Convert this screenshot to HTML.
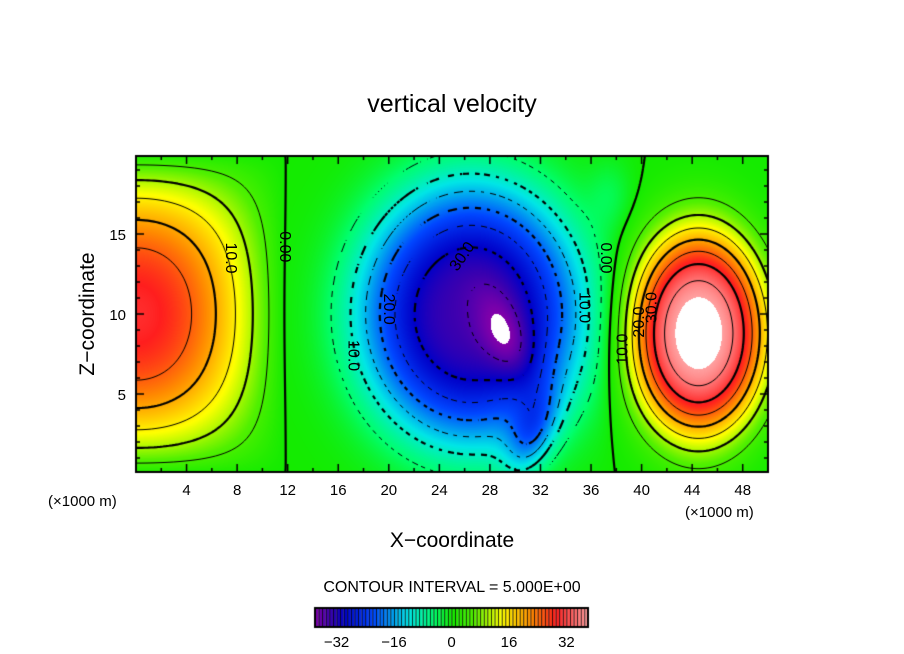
<!DOCTYPE html>
<html><head><meta charset="utf-8"><style>
body{margin:0;background:#fff;}
#wrap{position:relative;width:904px;height:654px;overflow:hidden;font-family:"Liberation Sans",sans-serif;}
canvas{position:absolute;left:0;top:0;}
svg{position:absolute;left:0;top:0;}
</style></head><body>
<div id="wrap">
<canvas id="cv" width="904" height="654"></canvas>
<svg width="904" height="654" id="ov">
<text x="452" y="112" font-size="25" text-anchor="middle" font-family="Liberation Sans, sans-serif">vertical velocity</text>
<text x="452" y="547" font-size="21" text-anchor="middle">X−coordinate</text>
<text transform="translate(94,314) rotate(-90)" font-size="21" text-anchor="middle">Z−coordinate</text>
<text x="48" y="506" font-size="15">(×1000 m)</text>
<text x="685" y="517" font-size="15">(×1000 m)</text>
<text x="452" y="592" font-size="16" text-anchor="middle">CONTOUR INTERVAL = 5.000E+00</text>
<g id="labels" font-size="16" font-family="Liberation Sans, sans-serif"></g>
</svg>
</div>
<script>
// data
const xTicks=[4,8,12,16,20,24,28,32,36,40,44,48];
const zTicks=[5,10,15];
const cbTicks=[-32,-16,0,16,32];
const leftAmp=30;
const blobX=[26.5,29.5,31.3,44.5,37.5];
const blobZ=[10,8.3,2.5,8.8,17.5];
const blobAmp=[-34,-6,-12,39.5,-3];
const blobSx=[6.3,2.5,1.2,3.9,1.2];
const blobSz=[5.8,1.3,2.0,4.7,1.5];
const blobAngle=[0,-1.0,-0.5,0,0];
const blobPower=[1.5,1,1,1.5,1];
const contourLabels=["10.0","0.00","20.0","30.0","10.0","10.0","0.00","10.0","20.0","30.0"];
const labelX=[7.5,11.8,20,25.8,17.2,35.5,37.2,38.5,39.8,40.8];
const labelZ=[13.5,14.2,10.3,13.6,7.4,10.4,13.5,7.8,9.5,10.4];
const labelRot=[90,90,90,-55,90,90,90,-90,-90,-90];

const X0=136,X1=768,Y0=156,Y1=472,XMAX=50;
const sx=x=>X0+x*(X1-X0)/XMAX;
const sz=z=>474-z*16;
function field(x,z){
  const env=Math.pow(Math.max(0,Math.sin(Math.PI*Math.min(Math.max(z,0),20)/20)),0.8);
  let v=leftAmp*env*Math.cos(Math.PI*Math.min(x,11.8)/23.6);
  for(let i=0;i<blobX.length;i++){
    const dx=x-blobX[i],dz=z-blobZ[i],a=blobAngle[i];
    const u=dx*Math.cos(a)+dz*Math.sin(a), w=-dx*Math.sin(a)+dz*Math.cos(a);
    const r2=(u*u)/(blobSx[i]*blobSx[i])+(w*w)/(blobSz[i]*blobSz[i]);
    v+=blobAmp[i]*Math.exp(-Math.pow(r2/2,blobPower[i]));
  }
  return v;
}
const stops=[[-38,130,0,170],[-34,60,0,175],[-30,0,0,200],[-22,0,70,255],[-12,0,230,230],[-5,0,255,110],[0,20,235,0],[6,80,240,0],[14,255,255,0],[22,255,140,0],[29,255,30,30],[38,255,160,160]];
function col(v){
  if(v<-38||v>38) return [255,255,255];
  for(let i=0;i<stops.length-1;i++){const a=stops[i],b=stops[i+1];
    if(v<=b[0]){const t=(v-a[0])/(b[0]-a[0]);return [a[1]+t*(b[1]-a[1]),a[2]+t*(b[2]-a[2]),a[3]+t*(b[3]-a[3])];}}
  return [255,160,160];
}
const cv=document.getElementById('cv'),ctx=cv.getContext('2d');
const W=X1-X0,H=Y1-Y0;
const img=ctx.createImageData(W,H);
for(let j=0;j<H;j++)for(let i=0;i<W;i++){
  const x=(i+0.5)*XMAX/W,z=(474-(Y0+j+0.5))/16;
  const c=col(field(x,z));const k=(j*W+i)*4;
  img.data[k]=c[0];img.data[k+1]=c[1];img.data[k+2]=c[2];img.data[k+3]=255;
}
ctx.putImageData(img,X0,Y0);
const CS=3,nx=Math.ceil(W/CS),nz=Math.ceil(H/CS);
const g=[];for(let j=0;j<=nz;j++){g[j]=[];for(let i=0;i<=nx;i++){g[j][i]=field(i*CS*XMAX/W,(474-(Y0+j*CS))/16);}}
ctx.save();ctx.beginPath();ctx.rect(X0,Y0,W,H);ctx.clip();
for(let L=-40;L<=45;L+=5){
  const thick=(L%10===0);
  ctx.lineWidth=thick?2.2:1;ctx.strokeStyle='#000';
  ctx.beginPath();
  for(let j=0;j<nz;j++)for(let i=0;i<nx;i++){
    if(L<0&&(Math.floor((i+j)/2)%2===0))continue;
    const v=[g[j][i],g[j][i+1],g[j+1][i+1],g[j+1][i]];
    const p=[[0,0],[1,0],[1,1],[0,1]];const pts=[];
    for(let e=0;e<4;e++){const a=v[e],b=v[(e+1)%4];
      if((a<L)!==(b<L)){const t=(L-a)/(b-a);const pa=p[e],pb=p[(e+1)%4];
        pts.push([X0+(i+pa[0]+t*(pb[0]-pa[0]))*CS,Y0+(j+pa[1]+t*(pb[1]-pa[1]))*CS]);}}
    for(let q=0;q+1<pts.length;q+=2){ctx.moveTo(pts[q][0],pts[q][1]);ctx.lineTo(pts[q+1][0],pts[q+1][1]);}
  }
  ctx.stroke();
}
ctx.restore();
ctx.strokeStyle='#000';ctx.lineWidth=2;ctx.strokeRect(X0,Y0,W,H);
ctx.lineWidth=1.5;ctx.beginPath();
for(let x=2;x<XMAX;x+=2){const len=(x%4===0)?8:4;ctx.moveTo(sx(x),Y1);ctx.lineTo(sx(x),Y1-len);ctx.moveTo(sx(x),Y0);ctx.lineTo(sx(x),Y0+len);}
for(let z=1;z<20;z++){const len=(z%5===0)?8:4;ctx.moveTo(X0,sz(z));ctx.lineTo(X0+len,sz(z));ctx.moveTo(X1,sz(z));ctx.lineTo(X1-len,sz(z));}
ctx.stroke();
const CB0=315,CB1=588,CBY=608,CBH=19;
for(let v=-38;v<38;v++){
  const a=CB0+(v+38)*(CB1-CB0)/76,b=CB0+(v+39)*(CB1-CB0)/76;
  const c=col(v+0.5);ctx.fillStyle='rgb('+c.map(Math.round).join(',')+')';ctx.fillRect(a,CBY,b-a,CBH);
  ctx.fillStyle='#000';ctx.fillRect(a,CBY,0.8,CBH);
}
ctx.lineWidth=2;ctx.strokeRect(CB0,CBY,CB1-CB0,CBH);
const ov=document.getElementById('ov'),NS='http://www.w3.org/2000/svg';
function txt(x,y,s,name,anchor,size){const t=document.createElementNS(NS,'text');t.setAttribute('x',x);t.setAttribute('y',y);t.setAttribute('font-size',size);t.setAttribute('text-anchor',anchor);t.textContent=s;


ov.appendChild(t);return t;}
xTicks.forEach(v=>txt(sx(v),495,String(v),'x-tick-label','middle',15));
zTicks.forEach(v=>txt(126,sz(v)+6,String(v),'y-tick-label','end',15));
cbTicks.forEach(v=>txt(CB0+(v+38)*(CB1-CB0)/76,647,v<0?'−'+(-v):String(v),'colorbar-tick-label','middle',15));
const lg=document.getElementById('labels');
contourLabels.forEach((s,i)=>{const t=document.createElementNS(NS,'text');
  const x=sx(labelX[i]),y=sz(labelZ[i]);
  t.setAttribute('transform','translate('+x+','+y+') rotate('+labelRot[i]+')');
  t.setAttribute('text-anchor','middle');t.setAttribute('dy','5');t.textContent=s;
  
  
  lg.appendChild(t);});
</script>
</body></html>
